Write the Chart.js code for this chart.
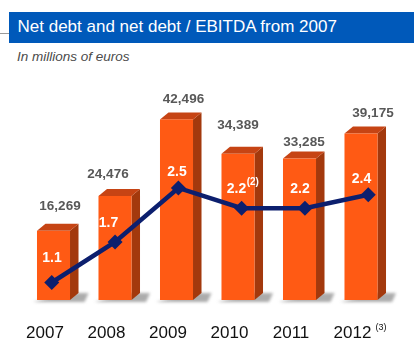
<!DOCTYPE html>
<html><head><meta charset="utf-8">
<script src="https://cdn.jsdelivr.net/npm/chart.js@4"></script>
<style>
html,body{margin:0;padding:0;background:#fff;}
#wrap{position:relative;width:415px;height:356px;overflow:hidden;font-family:"Liberation Sans",Arial,sans-serif;}
#band{position:absolute;left:9px;top:12px;width:405px;height:31px;background:#0059BA;}
#rule{position:absolute;left:0;top:33px;width:9px;height:1px;background:#9a9a9a;}
#title{position:absolute;left:17.5px;top:17px;line-height:20px;color:#fff;font-size:17px;white-space:nowrap;}
#sub{position:absolute;left:17px;top:49px;line-height:16px;font-style:italic;font-size:13.5px;color:#4a4a4a;white-space:nowrap;}
canvas{position:absolute;left:0;top:0;}
</style>
</head><body>
<div id="wrap">
  <div id="rule"></div>
  <div id="band"></div>
  <div id="title">Net debt and net debt / EBITDA from 2007</div>
  <div id="sub">In millions of euros</div>
  <canvas id="c" width="415" height="356"></canvas>
</div>
<script>
const years = ['2007', '2008', '2009', '2010', '2011', '2012'];
const yearNotes = ['', '', '', '', '', '(3)'];
const netDebt = [16269, 24476, 42496, 34389, 33285, 39175];
const ratio = [1.1, 1.7, 2.5, 2.2, 2.2, 2.4];
const ratioNotes = ['', '', '', '(2)', '', ''];

const FONT = '"Liberation Sans", Arial, sans-serif';
// label nudges (styling, px)
const VAL_DX = [6.5, -7, 7, 0, 4.5, 12];
const VAL_DY = [-25, -22, -20, -29, -16, -20];
const RAT_DX = [-1.5, -6.5, 0.5, -1.5, 0.5, 0.5];
const RAT_DY = [-24, -19, -16, -19, -19, -16];
const X_LABEL_SHIFT = -8.5;

const bar3d = {
  id: 'bar3d',
  beforeDatasetsDraw(chart) {
    const meta = chart.getDatasetMeta(0);
    const ctx = chart.ctx;
    const dx = 8.5, dy = 7;
    meta.data.forEach(el => {
      const {x, y, base, width} = el.getProps(['x', 'y', 'base', 'width'], true);
      const l = x - width / 2, r = x + width / 2;
      ctx.save();
      ctx.filter = 'blur(1.5px)';
      ctx.fillStyle = 'rgba(90,90,90,0.5)';
      ctx.beginPath();
      ctx.moveTo(l - 4, base + 2);
      ctx.lineTo(r + dx + 6, base + 2);
      ctx.lineTo(r + dx + 10, base - dy);
      ctx.lineTo(r, base - dy);
      ctx.closePath();
      ctx.fill();
      ctx.restore();
      ctx.fillStyle = '#A3390D';
      ctx.beginPath();
      ctx.moveTo(r, y); ctx.lineTo(r + dx, y - dy); ctx.lineTo(r + dx, base - dy); ctx.lineTo(r, base);
      ctx.closePath(); ctx.fill();
      ctx.fillStyle = '#C64414';
      ctx.beginPath();
      ctx.moveTo(l, y); ctx.lineTo(l + dx, y - dy); ctx.lineTo(r + dx, y - dy); ctx.lineTo(r, y);
      ctx.closePath(); ctx.fill();
      ctx.fillStyle = '#FF5A14';
      ctx.fillRect(l, y, width, base - y);
    });
  }
};

const labels = {
  id: 'labels',
  afterDatasetsDraw(chart) {
    const ctx = chart.ctx;
    const bars = chart.getDatasetMeta(0).data;
    const pts = chart.getDatasetMeta(1).data;
    ctx.save();
    ctx.textBaseline = 'middle';
    bars.forEach((b, i) => {
      ctx.textAlign = 'center';
      ctx.font = 'bold 13.5px ' + FONT;
      ctx.fillStyle = '#585858';
      ctx.fillText(netDebt[i].toLocaleString('en-US'), b.x + VAL_DX[i], b.y + VAL_DY[i]);
      ctx.font = 'bold 14px ' + FONT;
      ctx.fillStyle = '#ffffff';
      const s = ratio[i].toFixed(1);
      const tx = b.x + RAT_DX[i], ty = pts[i].y + RAT_DY[i];
      ctx.fillText(s, tx, ty);
      if (ratioNotes[i]) {
        const w = ctx.measureText(s).width;
        ctx.font = 'bold 10px ' + FONT;
        ctx.textAlign = 'left';
        ctx.fillText(ratioNotes[i], tx + w / 2 + 0.5, ty - 7);
      }
    });
    const xs = chart.scales.x;
    years.forEach((yr, i) => {
      if (!yearNotes[i]) return;
      ctx.font = '17px ' + FONT;
      const w = ctx.measureText(yr).width;
      const cx = xs.getPixelForTick(i) + X_LABEL_SHIFT;
      ctx.font = '9px ' + FONT;
      ctx.textAlign = 'left';
      ctx.fillStyle = '#111';
      ctx.fillText(yearNotes[i], cx + w / 2 + 4, 327.5);
    });
    ctx.restore();
  }
};

new Chart(document.getElementById('c'), {
  type: 'bar',
  data: {
    labels: years,
    datasets: [
      {
        type: 'bar',
        data: netDebt,
        xAxisID: 'x',
        yAxisID: 'y',
        backgroundColor: 'rgba(0,0,0,0)',
        borderWidth: 0,
        grouped: false,
        categoryPercentage: 1,
        barPercentage: 0.537,
        order: 2
      },
      {
        type: 'line',
        data: ratio.map((v, i) => ({x: i, y: v})),
        xAxisID: 'xl',
        yAxisID: 'y2',
        borderColor: '#0C1F6E',
        backgroundColor: '#0C1F6E',
        borderWidth: 4.5,
        tension: 0,
        pointStyle: 'rectRot',
        pointRadius: 7.5,
        pointBorderWidth: 0,
        pointBackgroundColor: '#0C1F6E',
        order: 1
      }
    ]
  },
  options: {
    responsive: false,
    animation: false,
    devicePixelRatio: 1,
    layout: {padding: {left: 22.75, right: 23.25, top: 80, bottom: 0}},
    plugins: {legend: {display: false}, tooltip: {enabled: false}},
    scales: {
      x: {
        type: 'category',
        offset: true,
        grid: {display: false, drawTicks: false},
        border: {display: false},
        ticks: {font: {size: 17, family: FONT}, color: '#111', padding: 23, labelOffset: X_LABEL_SHIFT, maxRotation: 0, autoSkip: false},
        afterFit(s) { s.height = 56; }
      },
      xl: {type: 'linear', display: false, offset: false, grid: {offset: false}, min: -0.458, max: 5.371},
      y: {display: false, min: 0, max: 51765},
      y2: {display: false, min: 0.841, max: 4.098}
    }
  },
  plugins: [bar3d, labels]
});
</script>
</body></html>
